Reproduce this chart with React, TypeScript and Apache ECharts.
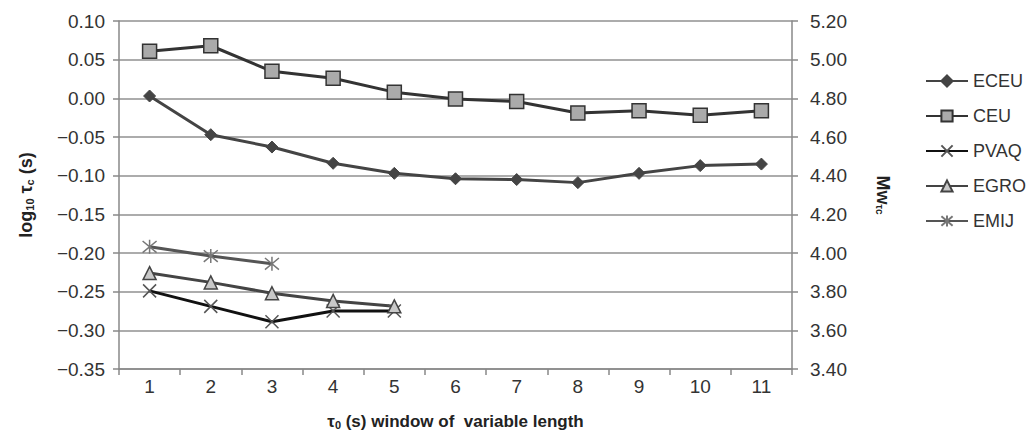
import React, { useEffect, useRef } from "react";
import * as echarts from "echarts";

const categories = ["1", "2", "3", "4", "5", "6", "7", "8", "9", "10", "11"];
const eceu = [0.003, -0.047, -0.063, -0.084, -0.097, -0.104, -0.105, -0.109, -0.097, -0.087, -0.085];
const ceu = [0.061, 0.068, 0.035, 0.026, 0.008, -0.001, -0.004, -0.019, -0.016, -0.022, -0.016];
const pvaq = [-0.249, -0.269, -0.289, -0.275, -0.275];
const egro = [-0.226, -0.238, -0.252, -0.262, -0.269];
const emij = [-0.192, -0.204, -0.214];

const X_PATH = "path://M0,0 L10,10 M10,0 L0,10";
const STAR_PATH = "path://M0,0 L10,10 M10,0 L0,10 M5,-1 L5,11";

export default function App() {
  const ref = useRef<HTMLDivElement>(null);
  useEffect(() => {
    if (!ref.current) return;
    const chart = echarts.init(ref.current, undefined, { renderer: "svg" });
    const font = "Liberation Sans, Arial, sans-serif";
    const mkLine = (name: string, data: number[], color: string, symbol: string, size: number, fill: string, border: string, bw: number, lw: number) => ({
      name,
      type: "line",
      data,
      symbol,
      symbolSize: size,
      lineStyle: { color, width: lw },
      itemStyle: { color: fill, borderColor: border, borderWidth: bw },
      emphasis: { disabled: true },
    });
    chart.setOption({
      animation: false,
      backgroundColor: "#fff",
      textStyle: { fontFamily: font },
      grid: { left: 119, right: 236, top: 21, bottom: 72 },
      legend: {
        orient: "vertical",
        left: 920,
        top: 67,
        itemGap: 17,
        itemWidth: 42,
        itemHeight: 14,
        textStyle: { fontSize: 18, color: "#333", fontFamily: font },
        data: ["ECEU", "CEU", "PVAQ", "EGRO", "EMIJ"],
      },
      xAxis: {
        type: "category",
        data: categories,
        boundaryGap: true,
        axisLine: { onZero: false, lineStyle: { color: "#888", width: 1.5 } },
        axisTick: { show: true, length: 6, lineStyle: { color: "#888", width: 1.5 } },
        axisLabel: { fontSize: 19, color: "#333", margin: 8 },
        name: "{t|τ}{s|0}{t| (s) window of  variable length}",
        nameLocation: "middle",
        nameGap: 43,
        nameTextStyle: {
          rich: {
            t: { fontSize: 17, fontWeight: "bold", color: "#222", fontFamily: font },
            s: { fontSize: 11, fontWeight: "bold", color: "#222", fontFamily: font, verticalAlign: "bottom", padding: [7, 0, 0, 0] },
          },
        },
      },
      yAxis: [
        {
          type: "value",
          min: -0.35,
          max: 0.1,
          interval: 0.05,
          axisLine: { show: true, lineStyle: { color: "#888", width: 1.5 } },
          axisTick: { show: true, length: 6, lineStyle: { color: "#888", width: 1.5 } },
          splitLine: { lineStyle: { color: "#919191", width: 1.5 } },
          axisLabel: {
            fontSize: 19,
            color: "#333",
            margin: 14,
            formatter: (v: number) => v.toFixed(2).replace("-", "−"),
          },
          name: "{t|log}{s|10}{t| τ}{s|c}{t| (s)}",
          nameLocation: "middle",
          nameGap: 84,
          nameTextStyle: {
            rich: {
              t: { fontSize: 18, fontWeight: "bold", color: "#222", fontFamily: font },
              s: { fontSize: 11, fontWeight: "bold", color: "#222", fontFamily: font, verticalAlign: "bottom", padding: [7, 0, 0, 0] },
            },
          },
        },
        {
          type: "value",
          min: 3.4,
          max: 5.2,
          interval: 0.2,
          position: "right",
          axisLine: { show: true, lineStyle: { color: "#888", width: 1.5 } },
          axisTick: { show: true, length: 6, lineStyle: { color: "#888", width: 1.5 } },
          splitLine: { show: false },
          axisLabel: {
            fontSize: 19,
            color: "#333",
            margin: 18,
            formatter: (v: number) => v.toFixed(2),
          },
          name: "{t|Mw}{s|τc}",
          nameLocation: "middle",
          nameGap: 82,
          nameRotate: -90,
          nameTextStyle: {
            rich: {
              t: { fontSize: 18, fontWeight: "bold", color: "#222", fontFamily: font },
              s: { fontSize: 10, fontWeight: "bold", color: "#222", fontFamily: font, verticalAlign: "bottom", padding: [7, 0, 0, 0] },
            },
          },
        },
      ],
      series: [
        mkLine("ECEU", eceu, "#444", "diamond", 12, "#444", "#444", 1, 3),
        mkLine("CEU", ceu, "#333", "rect", 14, "#aaa", "#333", 1.5, 3),
        mkLine("PVAQ", pvaq, "#111", X_PATH, 13, "transparent", "#555", 1.5, 3),
        mkLine("EGRO", egro, "#444", "triangle", 13, "#c8c8c8", "#444", 1.5, 3),
        mkLine("EMIJ", emij, "#555", STAR_PATH, 14, "transparent", "#777", 1.5, 3),
      ],
    });
    return () => chart.dispose();
  }, []);
  return <div ref={ref} style={{ position: "absolute", left: 0, top: 0, width: 1028, height: 441 }} />;
}
